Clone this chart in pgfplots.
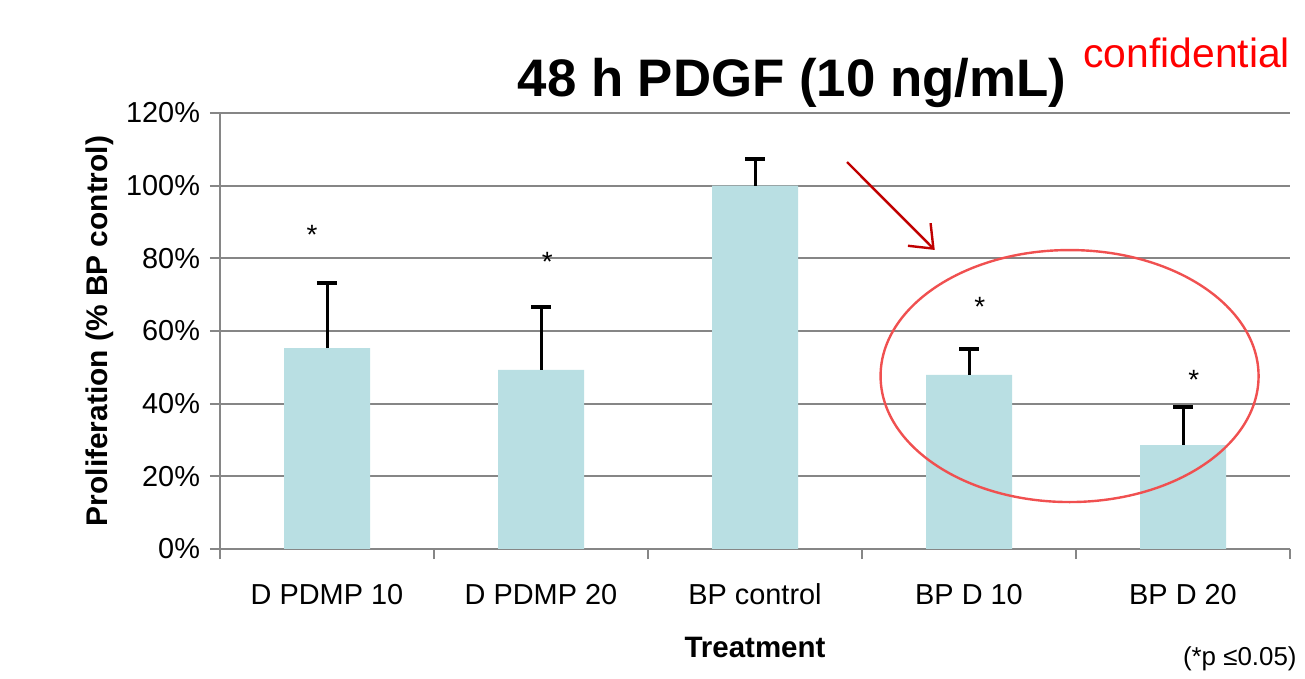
\documentclass[border=0pt]{standalone}
\usepackage{fontspec}
\setmainfont{Liberation Sans}
\usepackage{pgfplots}
\pgfplotsset{compat=1.18}
\usetikzlibrary{arrows.meta}
\definecolor{barblue}{RGB}{185,223,227}
\definecolor{gridgray}{RGB}{134,134,134}
\definecolor{arrowred}{RGB}{192,0,0}
\definecolor{ringred}{RGB}{240,80,80}
\begin{document}
\begin{tikzpicture}
\useasboundingbox (-110bp,-65bp) rectangle (542.5bp,274.5bp);
\begin{axis}[
    at={(0,0)}, anchor=south west,
    scale only axis, width=535bp, height=218bp,
    xmin=-0.5, xmax=4.5, ymin=0, ymax=120,
    axis x line*=bottom, axis y line*=left,
    axis line style={gridgray, line width=1.1bp},
    xtick={0,1,2,3,4},
    xticklabels={D PDMP 10, D PDMP 20, BP control, BP D 10, BP D 20},
    major x tick style={draw=none},
    minor xtick={-0.5,0.5,1.5,2.5,3.5,4.5},
    minor x tick style={gridgray, line width=1.1bp},
    ytick={0,20,...,120},
    yticklabel={\pgfmathprintnumber{\tick}\%},
    ytick style={gridgray, line width=1.1bp},
    tick align=outside, major tick length=5bp, minor tick length=5bp,
    ymajorgrids, grid style={gridgray, line width=1.1bp},
    /pgf/number format/assume math mode=true,
    ticklabel style={font=\fontsize{14.5}{17}\selectfont},
    xticklabel style={yshift=-9bp},
    yticklabel style={xshift=-1.5bp},
    ybar, bar width=86bp/2,
]
\addplot [fill=barblue, draw=none,
    error bars/.cd, y dir=plus, y explicit,
    error bar style={black, line width=1.5bp},
    error mark options={black, line width=1.8bp, mark size=5bp, rotate=90}]
    coordinates {
    (0,55.3) +- (0,17.9)
    (1,49.3) +- (0,17.3)
    (2,100.0) +- (0,7.3)
    (3,47.9) +- (0,7.1)
    (4,28.6) +- (0,10.5)
};
\node[font=\fontsize{14}{16}\selectfont] at (axis cs:-0.07,86.4) {*};
\node[font=\fontsize{14}{16}\selectfont] at (axis cs:1.03,79) {*};
\node[font=\fontsize{14}{16}\selectfont] at (axis cs:3.05,66.6) {*};
\node[font=\fontsize{14}{16}\selectfont] at (axis cs:4.05,46.5) {*};
\draw[ringred, line width=1.2bp] (axis cs:3.47,47.6) ellipse [x radius=94.5bp, y radius=63bp];
\draw[arrowred, line width=1.2bp, -{Straight Barb[length=10bp,width=16bp]}]
    (axis cs:2.43,106.5) -- (axis cs:2.84,82.3);
\end{axis}
\node[anchor=base, font=\bfseries\fontsize{26.5}{30}\selectfont] at (286bp,226bp) {48 h PDGF (10 ng/mL)};
\node[anchor=base west, inner sep=0pt, text=red, font=\fontsize{20.5}{24}\selectfont] at (431.5bp,240.5bp) {confidential};
\node[rotate=90, font=\bfseries\fontsize{15}{18}\selectfont] at (-60bp,109bp) {Proliferation (\% BP control)};
\node[anchor=base, font=\bfseries\fontsize{14.8}{18}\selectfont] at (267.5bp,-54bp) {Treatment};
\node[anchor=base east, inner sep=0pt, font=\fontsize{13}{16}\selectfont] at (538.5bp,-58bp) {(*p ≤0.05)};
\end{tikzpicture}
\end{document}
